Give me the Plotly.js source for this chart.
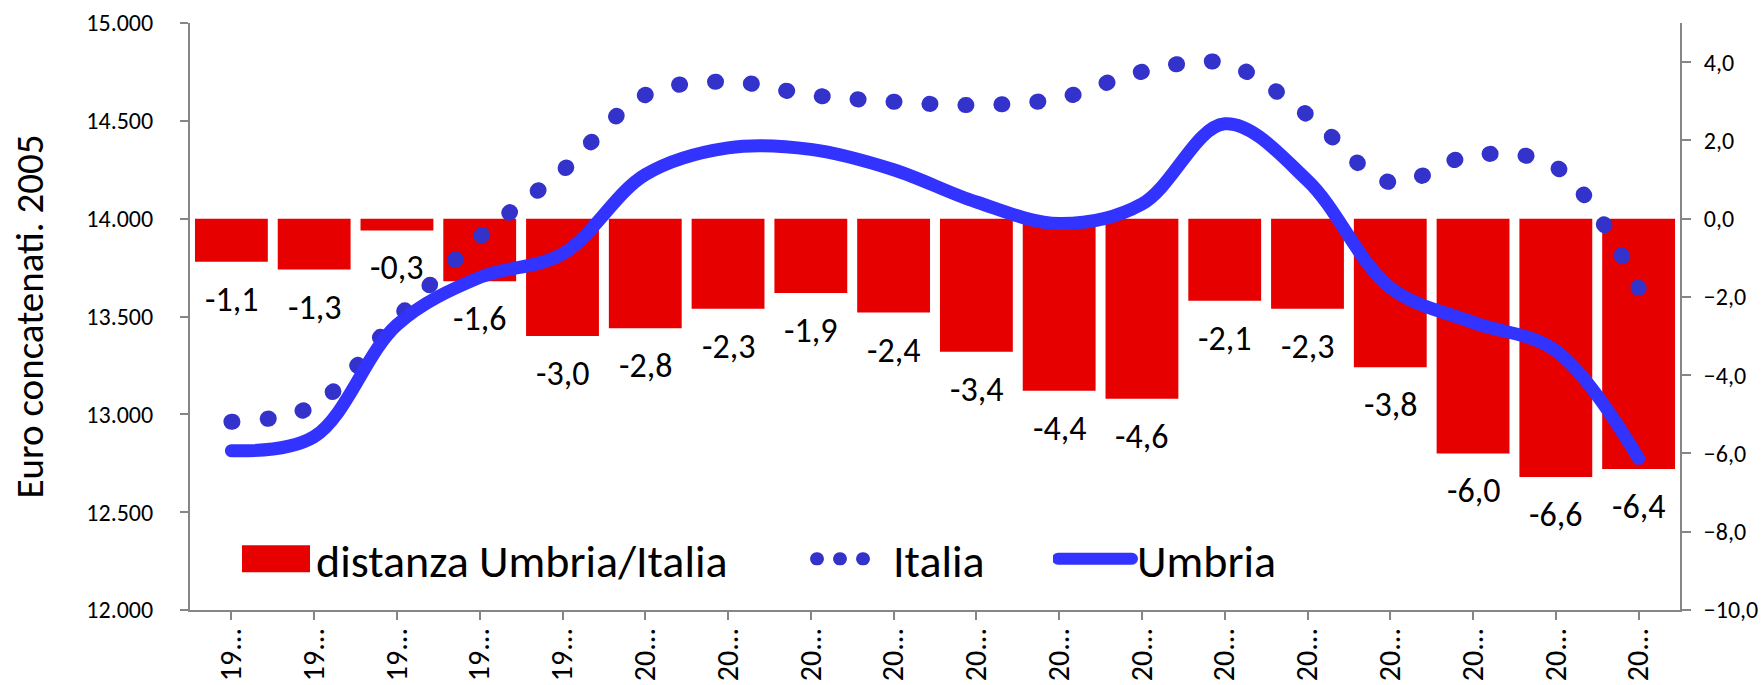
<!DOCTYPE html>
<html>
<head>
<meta charset="utf-8">
<script src="https://cdn.plot.ly/plotly-3.0.1.min.js"></script>
<style>
html,body{margin:0;padding:0;background:#fff;}
#chart{width:1763px;height:685px;}
path.js-line{stroke-linecap:round;}
.legend .legendpoints path{d:path("M34,13.5H-34V-13.5H34Z") !important;}
.legend2 path.js-line{stroke-width:13px !important;stroke-dasharray:1px,22px,1px,22px,1px,200px !important;stroke-dashoffset:-3.5px;}
.legend3 path.js-line{stroke-width:12px !important;}
</style>
</head>
<body>
<div id="chart"></div>
<script>
const years = [1995,1996,1997,1998,1999,2000,2001,2002,2003,2004,2005,2006,2007,2008,2009,2010,2011,2012];
const tickLabels = ['19...','19...','19...','19...','19...','20...','20...','20...','20...','20...','20...','20...','20...','20...','20...','20...','20...','20...'];
const distanza = [-1.1,-1.3,-0.3,-1.6,-3.0,-2.8,-2.3,-1.9,-2.4,-3.4,-4.4,-4.6,-2.1,-2.3,-3.8,-6.0,-6.6,-6.4];
const italia = [12962,13045,13490,13906,14245,14632,14700,14632,14598,14581,14615,14751,14794,14530,14186,14325,14265,13646];
const umbria = [12814,12886,13457,13700,13820,14225,14362,14354,14250,14085,13975,14075,14485,14195,13648,13470,13325,12775];

const FONT = 'Calibri, Carlito, Lato, sans-serif';
const AXIS_COLOR = '#868686';

const traces = [
  {
    type: 'bar', name: 'distanza Umbria/Italia', x: years, y: distanza, yaxis: 'y',
    marker: {color: '#E60000'}, legend: 'legend', hoverinfo: 'skip'
  },
  {
    type: 'scatter', mode: 'lines', name: 'Italia', x: years, y: italia, yaxis: 'y2',
    line: {color: '#3333CC', width: 16, dash: '1px,35px', shape: 'spline', smoothing: 1},
    legend: 'legend2', hoverinfo: 'skip'
  },
  {
    type: 'scatter', mode: 'lines', name: 'Umbria', x: years, y: umbria, yaxis: 'y2',
    line: {color: '#3333FF', width: 13, shape: 'spline', smoothing: 1},
    legend: 'legend3', hoverinfo: 'skip'
  }
];

// data labels under each bar, placed through the axis scales
const barLabels = years.map((yr, i) => ({
  x: yr, y: distanza[i], xref: 'x', yref: 'y',
  text: distanza[i].toFixed(1).replace('.', ','),
  showarrow: false, xanchor: 'center', yanchor: 'top', yshift: -15,
  font: {family: FONT, size: 34, color: '#000'}
}));

const legendBase = {
  orientation: 'h', xanchor: 'left', yanchor: 'middle', y: 0.087,
  font: {family: FONT, size: 46, color: '#000'}, bgcolor: 'rgba(0,0,0,0)', borderwidth: 0
};

const layout = {
  width: 1763, height: 685,
  margin: {l: 190, r: 83, t: 23, b: 75, autoexpand: false},
  paper_bgcolor: '#fff', plot_bgcolor: '#fff',
  separators: ',.',
  font: {family: FONT, color: '#000'},
  bargap: 0.12,
  showlegend: true,
  legend: Object.assign({}, legendBase, {x: (236 - 190) / 1490, itemwidth: 70}),
  legend2: Object.assign({}, legendBase, {x: (808 - 190) / 1490, itemwidth: 75}),
  legend3: Object.assign({}, legendBase, {x: (1053 - 190) / 1490, itemwidth: 74}),
  annotations: barLabels,
  xaxis: {
    range: [1994.5, 2012.5], tickvals: years, ticktext: tickLabels, tickangle: -90,
    ticks: 'outside', ticklen: 8, tickcolor: AXIS_COLOR, tickwidth: 2,
    showline: true, linecolor: AXIS_COLOR, linewidth: 2, showgrid: false, zeroline: false,
    tickfont: {family: FONT, size: 30, color: '#000'}, anchor: 'y', ticklabelstandoff: -4
  },
  yaxis: {
    side: 'right', range: [-10, 5], tick0: 0, dtick: 2, tickformat: '.1f',
    ticks: 'outside', ticklen: 9, tickcolor: AXIS_COLOR, tickwidth: 2,
    showline: true, linecolor: AXIS_COLOR, linewidth: 2, showgrid: false, zeroline: false,
    tickfont: {family: FONT, size: 24, color: '#000'}, ticklabelstandoff: 8
  },
  yaxis2: {
    overlaying: 'y', side: 'left', range: [12000, 15000], dtick: 500, tickformat: ',d',
    ticks: 'outside', ticklen: 8, tickcolor: AXIS_COLOR, tickwidth: 2,
    showline: true, linecolor: AXIS_COLOR, linewidth: 2, showgrid: false, zeroline: false,
    tickfont: {family: FONT, size: 24, color: '#000'}, ticklabelstandoff: 22,
    title: {text: 'Euro concatenati. 2005', font: {family: FONT, size: 39, color: '#000'}, standoff: 31}
  }
};

Plotly.newPlot('chart', traces, layout, {displayModeBar: false, staticPlot: true});
</script>
</body>
</html>
